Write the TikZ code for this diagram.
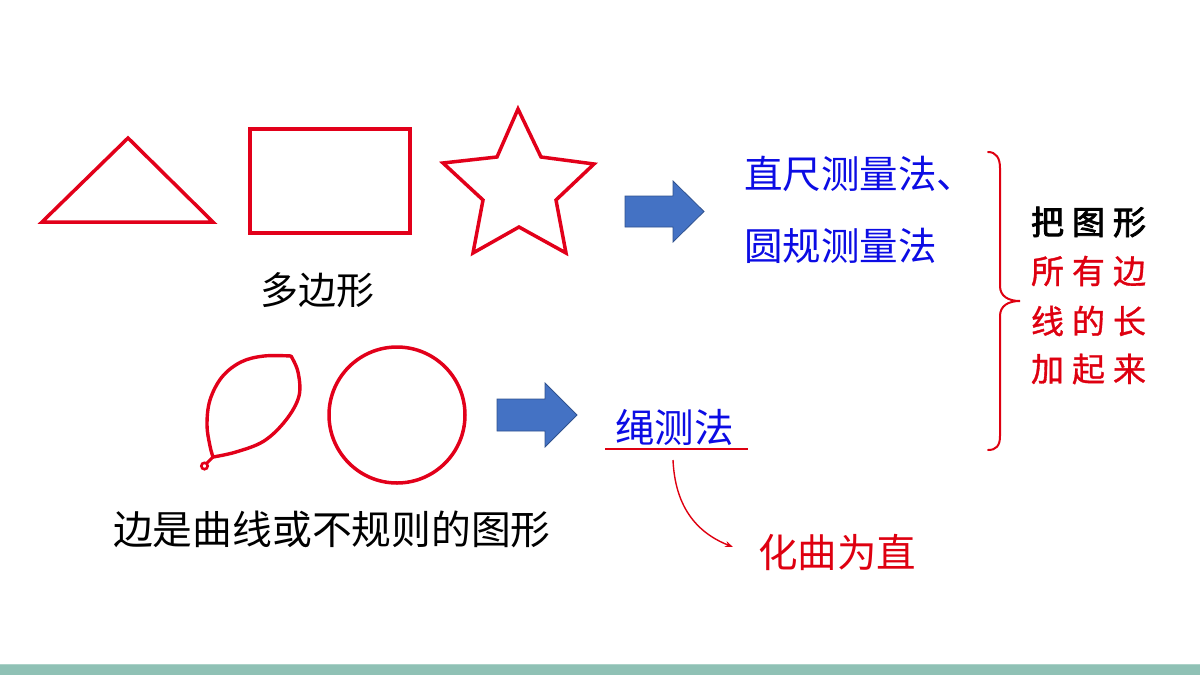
\documentclass[tikz,border=0pt]{standalone}
\usepackage{fontspec}
\setmainfont{Noto Sans CJK SC}
\newfontfamily\cjkb[FakeBold=2.5]{Noto Sans CJK SC}
\newfontfamily\cjkm[FakeBold=1]{Noto Sans CJK SC}
\usetikzlibrary{arrows.meta}
\definecolor{shapered}{RGB}{226,0,26}
\definecolor{textred}{RGB}{222,0,16}
\definecolor{textblue}{RGB}{12,12,228}
\definecolor{arrowblue}{RGB}{68,114,196}
\definecolor{arrowedge}{RGB}{47,82,143}
\definecolor{barfill}{RGB}{143,193,181}
\definecolor{barline}{RGB}{172,210,200}
\tikzset{
  redshape/.style={draw=shapered, line width=3.5pt, line join=miter},
  leafline/.style={draw=shapered, line width=3.4pt, line cap=round, line join=round},
  bigarrow/.style={fill=arrowblue, draw=arrowedge, line width=0.8pt},
  txt/.style={anchor=west, inner sep=0pt, outer sep=0pt},
  bluetxt/.style={txt, text=textblue, font=\fontsize{38.5}{44}\selectfont},
  blacktxt/.style={txt, text=black},
  redtxt/.style={txt, text=textred},
  sidetxt/.style={txt, font=\fontsize{33}{40}\selectfont},
}
\begin{document}
\begin{tikzpicture}[x=1pt,y=-1pt]
\useasboundingbox (0,0) rectangle (1200,675);
% bottom bar
\fill[barfill] (0,665) rectangle (1200,675);
\draw[barline, line width=1pt] (0,664.5) -- (1200,664.5);
% polygons
\draw[redshape] (42,222) -- (128,138) -- (213,222) -- cycle;
\draw[redshape] (250,129) rectangle (410,233);
\draw[redshape] (518,109) -- (541,157) -- (594,164) -- (556,200) -- (566,253)
  -- (519,227) -- (473,253) -- (483,200) -- (443,163) -- (497,157) -- cycle;
% curved shapes
\draw[draw=shapered, line width=3.5pt] (397,415) circle[radius=68pt];
\draw[leafline]
  plot[smooth, tension=0.6] coordinates {(291,356) (264,356) (241,362) (222,377) (210,400) (207,425) (210,446) (213,457)};
\draw[leafline]
  plot[smooth, tension=0.6] coordinates {(213,457) (236,452) (264,441) (286,420) (299,396) (298,372) (291,356)};
\draw[draw=shapered, line width=3pt, line cap=round] (213,457) -- (207,463);
\draw[draw=shapered, line width=2.6pt] (204.5,466) circle[radius=3.2pt];
% blue arrows
\draw[bigarrow] (625,196) -- (673,196) -- (673,181) -- (704,211.5) -- (673,242)
  -- (673,227) -- (625,227) -- cycle;
\draw[bigarrow] (497,399) -- (545,399) -- (545,383) -- (577,415) -- (545,447)
  -- (545,431) -- (497,431) -- cycle;
% texts
\node[bluetxt] (ruler) at (744,174) {直尺测量法、};
\node[bluetxt] (compass) at (744,246) {圆规测量法};
\node[blacktxt, font=\fontsize{38}{44}\selectfont] (poly) at (260,290) {多边形};
\node[blacktxt, font=\fontsize{39.8}{46}\selectfont] (curv) at (113,529) {边是曲线或不规则的图形};
\node[bluetxt, font=\fontsize{39.5}{46}\selectfont] (rope) at (615,427) {绳测法};
\coordinate (ulA) at (605,449);
\coordinate (ulB) at (748,449);
\draw[textred, line width=2pt] (ulA) -- (ulB);
\node[redtxt, font=\fontsize{39.5}{46}\selectfont] (straight) at (758,552) {化曲为直};
\coordinate (cs) at (673,460);
\coordinate (ce) at (733,547);
\draw[textred, line width=1.4pt, -{Stealth[length=8pt,width=6pt]}]
  (cs) .. controls (675,505) and (695,532) .. (ce);
% brace
\draw[textred, line width=2pt, line cap=round]
  (988,152) .. controls (996,152) and (1000,158) .. (1000,168) -- (1000,286)
  .. controls (1000,296) and (1008,301) .. (1020,301)
  .. controls (1008,301) and (1000,306) .. (1000,316) -- (1000,436)
  .. controls (1000,446) and (996,450) .. (988,450);
% side text
\node[sidetxt, text=black] (s1) at (1031,222) {\cjkb 把\hspace{8pt}图\hspace{8pt}形};
\node[sidetxt, text=textred] (s2) at (1031,271) {\cjkm 所\hspace{8pt}有\hspace{8pt}边};
\node[sidetxt, text=textred] (s3) at (1031,321) {\cjkm 线\hspace{8pt}的\hspace{8pt}长};
\node[sidetxt, text=textred] (s4) at (1031,369) {\cjkm 加\hspace{8pt}起\hspace{8pt}来};
\end{tikzpicture}
\end{document}
